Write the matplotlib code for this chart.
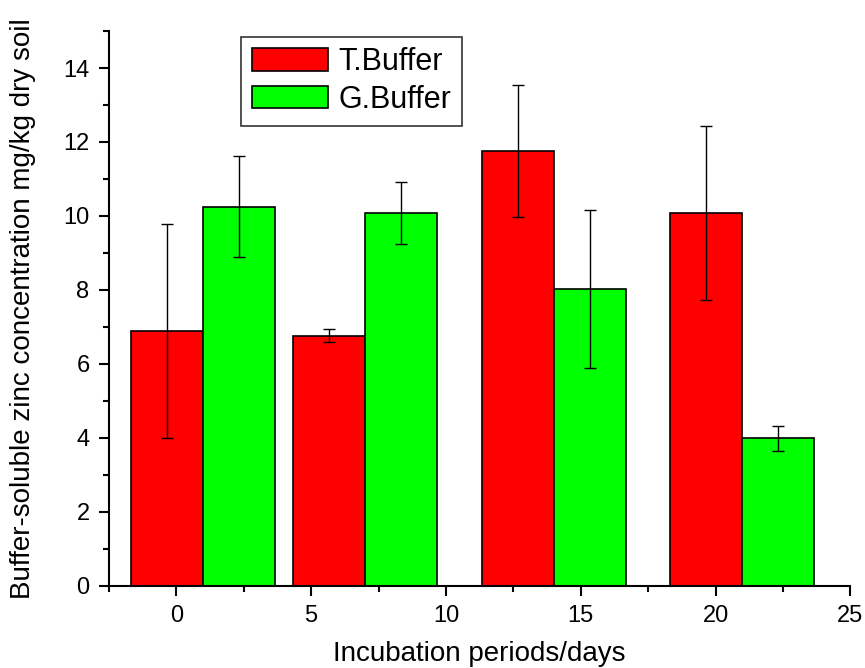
import numpy as np
import matplotlib
matplotlib.use("Agg")
import matplotlib.pyplot as plt
from matplotlib.ticker import MultipleLocator

# incubation days and measured values (mg/kg dry soil)
days = [1, 7, 14, 21]
t_buffer = [6.89, 6.76, 11.76, 10.08]
t_err = [2.90, 0.17, 1.78, 2.36]
g_buffer = [10.25, 10.08, 8.02, 3.98]
g_err = [1.37, 0.83, 2.14, 0.34]

plt.rcParams["font.family"] = ["Liberation Sans", "DejaVu Sans"]

fig = plt.figure(figsize=(8.65, 6.68), dpi=100)
ax = fig.add_axes([0.126, 0.1235, 0.857, 0.83])

width = 2.67
x = np.array(days, dtype=float)
err_kw = dict(ecolor="black", elinewidth=1, capsize=4, capthick=1)
ax.bar(x - width / 2, t_buffer, width, yerr=t_err, color="#ff0000",
       edgecolor="black", linewidth=1.2, label="T.Buffer", error_kw=err_kw)
ax.bar(x + width / 2, g_buffer, width, yerr=g_err, color="#00ff00",
       edgecolor="black", linewidth=1.2, label="G.Buffer", error_kw=err_kw)

ax.set_xlim(-2.5, 25)
ax.set_ylim(0, 15)
ax.xaxis.set_major_locator(MultipleLocator(5))
ax.xaxis.set_minor_locator(MultipleLocator(2.5))
ax.yaxis.set_major_locator(MultipleLocator(2))
ax.yaxis.set_minor_locator(MultipleLocator(1))

for side in ["top", "right"]:
    ax.spines[side].set_visible(False)
for side in ["left", "bottom"]:
    ax.spines[side].set_linewidth(1.5)

ax.tick_params(which="major", direction="out", length=7, width=1.5, labelsize=17, pad=7)
ax.tick_params(which="minor", direction="out", length=4, width=1.5)

ax.set_xlabel("Incubation periods/days", fontsize=20, labelpad=10)
ax.set_ylabel("Buffer-soluble zinc concentration mg/kg dry soil", fontsize=20, labelpad=20)

leg = ax.legend(loc="upper left", bbox_to_anchor=(0.178, 0.99), borderaxespad=0,
                fontsize=22, fancybox=False, frameon=True, edgecolor="black",
                handlelength=2.5, handleheight=0.75, handletextpad=0.35,
                labelspacing=0.25, borderpad=0.35)
leg.get_frame().set_linewidth(1.2)

fig.savefig("out.png", dpi=100)
